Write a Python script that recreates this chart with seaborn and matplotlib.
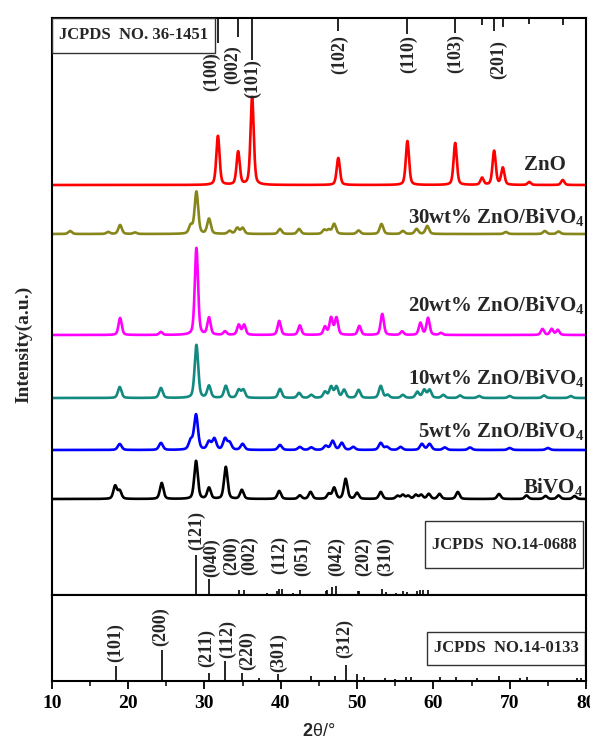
import numpy as np
import pandas as pd
import matplotlib
matplotlib.use("Agg")
import matplotlib.pyplot as plt
from matplotlib.patches import Rectangle
from matplotlib.ticker import MultipleLocator
import seaborn as sns

# ---------------------------------------------------------------- data
# Diffraction peaks of each sample: 2-theta (deg) and peak height (a.u.)
zno_pos = [31.77, 34.42, 36.25, 47.54, 56.60, 62.86, 66.38, 67.96, 69.10, 72.56, 76.95]
zno_int = [49, 33, 88, 27, 44, 42, 7, 34, 17, 3, 5]

zb30_pos = [12.4, 17.4, 18.95, 20.9, 28.2, 28.95, 30.6, 33.3, 34.3, 35.0, 39.9, 42.4,
            45.7, 46.3, 47.0, 50.2, 53.2, 56.0, 57.8, 59.2, 69.5, 74.6, 76.4]
zb30_int = [3, 2, 9, 1.5, 8, 42, 15, 3, 6, 6, 5, 5, 4, 4, 10, 3.5, 10, 3, 5, 8, 2, 3, 2.5]

zb20_pos = [18.95, 24.3, 28.95, 30.6, 32.7, 34.5, 35.2, 39.8, 42.5, 45.8, 46.6, 47.3,
            50.3, 53.3, 55.9, 58.3, 59.3, 61.0, 74.3, 75.5, 76.3]
zb20_int = [17, 3, 87, 17, 3.5, 10, 10, 14, 9.5, 8, 17, 17, 9, 21, 3.5, 12, 17, 2, 6, 6, 5]

zb10_pos = [18.9, 24.3, 28.95, 30.6, 32.8, 34.5, 35.1, 39.9, 42.4, 44.0, 45.8, 46.6, 47.3,
            48.3, 50.2, 53.1, 54.0, 56.0, 57.9, 58.8, 59.5, 61.3, 63.5, 66.0, 70.0, 74.5, 78.0]
zb10_int = [11, 10, 53, 12, 12, 8, 8, 9, 5, 3, 6, 11, 11, 8, 8, 12, 3, 3, 6, 8, 8, 3, 2.5,
            2, 2, 2.5, 2]

zb5_pos = [18.9, 24.3, 28.2, 28.9, 30.6, 31.3, 32.7, 33.3, 35.0, 39.9, 42.5, 44.0, 45.9,
           46.8, 48.0, 49.5, 53.1, 53.9, 55.7, 58.5, 59.5, 61.5, 64.8, 70.0, 75.0]
zb5_int = [6, 7, 9, 35, 8, 11, 11, 7, 6, 5, 3, 2.5, 4, 9, 7, 3, 7, 3, 3, 6, 6, 2.5, 2.5, 2, 2]

bvo_pos = [18.3, 18.9, 24.4, 28.9, 30.6, 32.8, 34.9, 39.8, 42.5, 43.9, 46.3, 47.0, 48.5,
           50.0, 53.1, 55.3, 56.0, 56.7, 57.7, 58.4, 59.4, 60.8, 63.2, 68.6, 72.2, 74.7,
           76.4, 78.5]
bvo_int = [13, 8, 16, 38, 11, 32, 9, 8, 3.5, 7, 5, 11, 20, 6, 7, 3, 4, 3, 4, 4, 5, 5, 7, 5,
           3.5, 3, 3.5, 3]

sample_names = ["ZnO", "30wt% ZnO/BiVO4", "20wt% ZnO/BiVO4",
                "10wt% ZnO/BiVO4", "5wt% ZnO/BiVO4", "BiVO4"]
sample_labels = ["ZnO", r"30wt% ZnO/BiVO$_4$", r"20wt% ZnO/BiVO$_4$",
                 r"10wt% ZnO/BiVO$_4$", r"5wt% ZnO/BiVO$_4$", r"BiVO$_4$"]
sample_offsets = [410, 361, 260, 197, 145, 96]
sample_fwhm = [0.5, 0.55, 0.5, 0.55, 0.6, 0.55]
sample_colors = ["#ff0000", "#86861a", "#ff00ff", "#138a80", "#0000ff", "#000000"]

# Reference cards
zno_ref_pos = [31.77, 34.42, 36.25, 47.54, 56.60, 62.86, 66.38, 67.96, 69.10, 72.56, 76.95]
zno_ref_len = [25, 19, 42, 13, 16, 15, 7, 13, 9, 6, 7]
zno_hkl = ["(100)", "(002)", "(101)", "(102)", "(110)", "(103)", "(201)"]
zno_hkl_x = [31.0, 33.7, 36.25, 47.7, 56.7, 62.9, 68.6]
zno_hkl_y = [542.5, 550, 535.5, 560, 560, 561, 555]

mono_pos = [28.95, 30.55, 34.5, 35.2, 38.2, 39.5, 39.8, 40.1, 41.6, 42.5, 45.9, 46.0,
            46.7, 47.3, 50.1, 50.3, 53.3, 53.8, 55.1, 56.0, 56.5, 57.8, 58.3, 58.6, 59.3]
mono_len = [40, 16, 5, 5, 2, 4, 6, 6, 2.5, 5, 4, 5, 8, 9, 4, 4, 6, 3, 2.5, 4, 3.5, 4, 5, 5, 5]
mono_hkl = ["(121)", "(040)", "(200)", "(002)", "(112)", "(051)", "(042)", "(202)", "(310)"]
mono_hkl_x = [29.0, 30.9, 33.6, 35.9, 39.8, 42.8, 47.3, 50.8, 53.8]
mono_hkl_y = [45, 18, 20, 20, 21, 19, 19, 19, 19]

tetra_pos = [18.35, 24.4, 30.6, 32.7, 34.9, 37.2, 39.7, 43.9, 47.1, 48.5, 50.0, 50.9,
             53.6, 55.0, 56.4, 57.1, 60.9, 63.0, 65.7, 68.6, 71.3, 72.3, 78.8, 79.3]
tetra_len = [15, 31, 8, 20, 8, 3, 7, 5.5, 5.5, 16, 7, 4, 3.5, 2, 4.5, 4, 4, 4.5, 3, 5.5,
             3, 4.5, 3, 3]
tetra_hkl = ["(101)", "(200)", "(211)", "(112)", "(220)", "(301)", "(312)"]
tetra_hkl_x = [18.35, 24.2, 30.3, 33.0, 35.6, 39.7, 48.4]
tetra_hkl_y = [19, 35, 14, 23, 11, 9, 23]

# ---------------------------------------------------------------- style
sns.set_theme(style="white")
plt.rcParams.update({
    "font.family": ["Liberation Serif", "DejaVu Serif"],
    "font.weight": "bold",
    "mathtext.fontset": "custom",
    "mathtext.rm": "Liberation Serif:bold",
    "mathtext.it": "Liberation Serif:bold:italic",
    "mathtext.bf": "Liberation Sans:bold",
    "axes.edgecolor": "black",
    "axes.linewidth": 1.5,
})

two_theta = np.linspace(10, 80, 3501)


def profile(pos, inten, fwhm, eta=0.4):
    """Pseudo-Voigt sum of the listed reflections."""
    d = (two_theta[:, None] - np.asarray(pos)[None, :]) / fwhm
    shape = (1 - eta) * np.exp(-4 * np.log(2) * d ** 2) + eta / (1 + 4 * d ** 2)
    return (shape * np.asarray(inten)[None, :]).sum(axis=1)


peak_sets = [(zno_pos, zno_int), (zb30_pos, zb30_int), (zb20_pos, zb20_int),
             (zb10_pos, zb10_int), (zb5_pos, zb5_int), (bvo_pos, bvo_int)]
frames = []
for name, (p, h), off, w in zip(sample_names, peak_sets, sample_offsets, sample_fwhm):
    frames.append(pd.DataFrame({"two_theta": two_theta,
                                "intensity": profile(p, h, w) + off,
                                "sample": name}))
patterns = pd.concat(frames, ignore_index=True)

# ---------------------------------------------------------------- figure
fig = plt.figure(figsize=(5.9, 7.4), dpi=100)
left, right = 51.8 / 590, 586 / 590
ax1 = fig.add_axes([left, 1 - 595 / 740, right - left, (595 - 17.5) / 740])
ax2 = fig.add_axes([left, 1 - 681 / 740, right - left, (681 - 595) / 740], sharex=ax1)

sns.lineplot(data=patterns, x="two_theta", y="intensity", hue="sample",
             hue_order=sample_names, palette=sample_colors, estimator=None,
             sort=False, linewidth=1.9, legend=False, ax=ax1)

top = 577.5
ax1.set_xlim(10, 80)
ax1.set_ylim(0, top)
ax2.set_ylim(0, 86)

# sample names
name_x = [77.3, 79.8, 79.8, 79.8, 79.8, 79.7]
name_y = [425.5, 372, 283.5, 211, 158, 102]
for lab, x, y in zip(sample_labels, name_x, name_y):
    ax1.text(x, y, lab, ha="right", va="baseline", fontsize=15, fontweight="bold")

# ZnO card hanging from the top
ax1.vlines(zno_ref_pos, [top - l for l in zno_ref_len], top, color="black", lw=1.2)
for lab, x, y in zip(zno_hkl, zno_hkl_x, zno_hkl_y):
    ax1.text(x, y, lab, rotation=90, ha="center", va="top", fontsize=13)
ax1.add_patch(Rectangle((10, top - 35), 31.39 - 10, 35, fill=False,
                        edgecolor="#333333", lw=1.0, zorder=3))
ax1.text(20.7, top - 17.5, "JCPDS  NO. 36-1451", ha="center", va="center", fontsize=12)

# monoclinic BiVO4 card
ax1.vlines(mono_pos, 0, mono_len, color="black", lw=1.2)
for lab, x, y in zip(mono_hkl, mono_hkl_x, mono_hkl_y):
    ax1.text(x, y, lab, rotation=90, ha="center", va="bottom", fontsize=13)
ax1.add_patch(Rectangle((58.96, 27), 79.67 - 58.96, 47, fill=False,
                        edgecolor="#333333", lw=1.0))
ax1.text(69.3, 50, "JCPDS  NO.14-0688", ha="center", va="center", fontsize=12)

# tetragonal BiVO4 card
ax2.vlines(tetra_pos, 0, tetra_len, color="black", lw=1.2)
for lab, x, y in zip(tetra_hkl, tetra_hkl_x, tetra_hkl_y):
    ax2.text(x, y, lab, rotation=90, ha="center", va="bottom", fontsize=13)
ax2.add_patch(Rectangle((59.2, 16), 79.85 - 59.2, 33, fill=False,
                        edgecolor="#333333", lw=1.0))
ax2.text(69.6, 32.5, "JCPDS  NO.14-0133", ha="center", va="center", fontsize=12)

# axes cosmetics
ax1.tick_params(bottom=False, labelbottom=False, left=False, labelleft=False)
ax1.set_xlabel("")
ax1.set_ylabel("")
ax2.set_yticks([])
ax2.xaxis.set_major_locator(MultipleLocator(10))
ax2.xaxis.set_minor_locator(MultipleLocator(5))
ax2.tick_params(axis="x", which="major", direction="out", length=6, width=1.3,
                bottom=True, labelsize=14, pad=4, colors="black")
ax2.tick_params(axis="x", which="minor", direction="out", length=3.5, width=1.3,
                bottom=True)
for lbl in ax2.get_xticklabels():
    lbl.set_fontweight("bold")
for ax in (ax1, ax2):
    for s in ax.spines.values():
        s.set_color("black")
        s.set_linewidth(1.5)

ax2.set_xlabel(r"$\mathbf{2}$θ/°", fontfamily="Liberation Sans", fontweight="normal",
               fontsize=13, labelpad=8)
fig.text(24 / 590, 1 - 344 / 740, "Intensity(a.u.)", rotation=90, ha="center",
         va="center", fontsize=14, fontweight="bold")

fig.savefig("out.png", dpi=100)
